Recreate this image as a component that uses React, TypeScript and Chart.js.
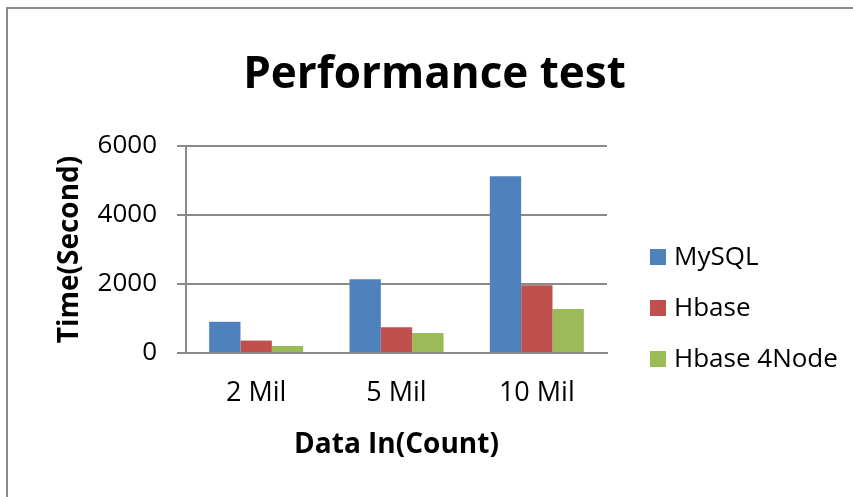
import React, { useEffect, useRef } from "react";
import { Chart, registerables } from "chart.js";

Chart.register(...registerables);

const categories = ["2 Mil", "5 Mil", "10 Mil"];
const mysqlValues = [905, 2140, 5120];
const hbaseValues = [360, 745, 1965];
const hbase4NodeValues = [205, 580, 1275];
const yTicks = [0, 2000, 4000, 6000];

const FONT = "'Open Sans', 'Noto Sans', sans-serif";

const legendPlugin = {
  id: "customLegend",
  afterDraw(chart: any) {
    const { ctx, chartArea } = chart;
    const x0 = chartArea.right + 43;
    const rowGap = 51;
    const yStart = 257;
    ctx.save();
    ctx.font = `26px ${FONT}`;
    ctx.textBaseline = "middle";
    ctx.textAlign = "left";
    chart.data.datasets.forEach((ds: any, i: number) => {
      const yc = yStart + i * rowGap;
      ctx.fillStyle = ds.backgroundColor;
      ctx.fillRect(x0, yc - 8, 16, 16);
      ctx.fillStyle = "#000";
      ctx.fillText(ds.label, x0 + 24, yc + 1);
    });
    ctx.restore();
  },
};

export default function App() {
  const ref = useRef<HTMLCanvasElement>(null);
  useEffect(() => {
    if (!ref.current) return;
    const chart = new Chart(ref.current, {
      type: "bar",
      data: {
        labels: categories,
        datasets: [
          { label: "MySQL", data: mysqlValues, backgroundColor: "#4F81BD" },
          { label: "Hbase", data: hbaseValues, backgroundColor: "#C0504D" },
          { label: "Hbase 4Node", data: hbase4NodeValues, backgroundColor: "#9BBB59" },
        ],
      },
      options: {
        responsive: false,
        animation: false,
        layout: { padding: 0 },
        datasets: { bar: { categoryPercentage: 0.67, barPercentage: 1 } } as any,
        plugins: {
          legend: { display: false },
          tooltip: { enabled: false },
          title: {
            display: true,
            text: "Performance test",
            color: "#000",
            font: { family: FONT, size: 44, weight: "bold" },
            padding: { top: 48.6, bottom: 44.6 },
          },
        },
        scales: {
          x: {
            afterFit: (s: any) => {
              s.height = 144;
            },
            grid: { display: false, drawTicks: false },
            border: { display: true, color: "#8a8a8a", width: 2 },
            ticks: { color: "#000", font: { family: FONT, size: 27 }, padding: 24 },
            title: {
              display: true,
              text: "Data In(Count)",
              color: "#000",
              font: { family: FONT, size: 28, weight: "bold" },
              padding: { top: 4, bottom: 34.7 },
            },
          },
          y: {
            min: 0,
            max: 6000,
            afterFit: (s: any) => {
              s.width = 178;
            },
            afterBuildTicks: (axis: any) => {
              axis.ticks = yTicks.map((v) => ({ value: v }));
            },
            grid: { color: "#8a8a8a", lineWidth: 2, tickLength: 9, drawTicks: true },
            border: { display: true, color: "#8a8a8a", width: 2 },
            ticks: {
              color: "#000",
              font: { family: FONT, size: 26 },
              padding: 20,
              callback: (v: any) => String(v),
            },
            title: {
              display: true,
              text: "Time(Second)",
              color: "#000",
              font: { family: FONT, size: 28, weight: "bold" },
              padding: { top: 45, bottom: 4 },
            },
          },
          r: {
            type: "linear",
            position: "right",
            display: true,
            afterFit: (s: any) => {
              s.width = 254;
            },
            grid: { display: false, drawTicks: false },
            border: { display: false },
            ticks: { display: false },
          },
        },
      },
      plugins: [legendPlugin],
    });
    return () => chart.destroy();
  }, []);

  return (
    <div
      style={{
        position: "fixed",
        left: 0,
        top: 0,
        width: 853,
        height: 497,
        overflow: "hidden",
        background: "#fff",
      }}
    >
      <div
        style={{
          position: "absolute",
          left: 6,
          top: 7,
          width: 1000,
          height: 1000,
          borderLeft: "2px solid #8a8a8a",
          borderTop: "2px solid #8a8a8a",
        }}
      />
      <canvas
        ref={ref}
        width={853}
        height={497}
        style={{ position: "absolute", left: 8, top: 0, width: 853, height: 497 }}
      />
    </div>
  );
}
